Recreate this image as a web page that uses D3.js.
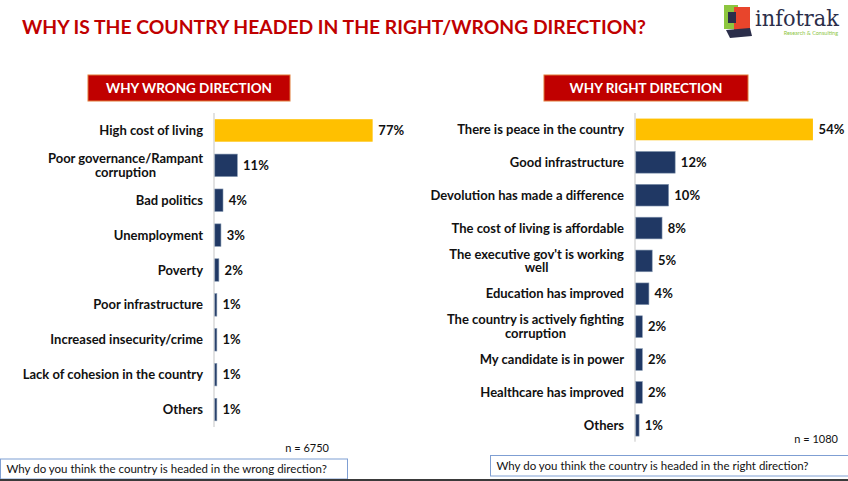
<!DOCTYPE html>
<html>
<head>
<meta charset="utf-8">
<script src="https://cdnjs.cloudflare.com/ajax/libs/d3/7.8.5/d3.min.js"></script>
<style>
	body { margin: 0; background: #fff; }
	svg { display: block; font-family: Lato, 'Open Sans', sans-serif; }
</style>
</head>
<body>
<div id="chart"></div>
<script>
// data
var wrongLabels = ['High cost of living', 'Poor governance/Rampant\ncorruption', 'Bad politics', 'Unemployment',
	'Poverty', 'Poor infrastructure', 'Increased insecurity/crime', 'Lack of cohesion in the country', 'Others'];
var wrongValues = [77, 11, 4, 3, 2, 1, 1, 1, 1];

var rightLabels = ['There is peace in the country', 'Good infrastructure', 'Devolution has made a difference',
	'The cost of living is affordable', "The executive gov't is working\nwell", 'Education has improved',
	'The country is actively fighting\ncorruption', 'My candidate is in power', 'Healthcare has improved', 'Others'];
var rightValues = [54, 12, 10, 8, 5, 4, 2, 2, 2, 1];

var width = 848, height = 481;
var red = '#C00000', navy = '#203864', gold = '#FFC000';

var svg = d3.select('#chart').append('svg')
	.attr('width', width)
	.attr('height', height);

// Main title
svg.append('text')
	.attr('x', 22)
	.attr('y', 34)
	.attr('fill', red)
	.attr('font-weight', 700)
	.attr('font-size', '18px')
	.attr('textLength', 624)
	.attr('lengthAdjust', 'spacingAndGlyphs')
	.text('WHY IS THE COUNTRY HEADED IN THE RIGHT/WRONG DIRECTION?');

// logo (rough)
var logo = svg.append('g').attr('transform', 'translate(722, 3)');
logo.append('rect').attr('x', 2).attr('y', 2).attr('width', 14).attr('height', 24).attr('fill', '#8DC63F');
logo.append('rect').attr('x', 12).attr('y', 4).attr('width', 16).attr('height', 24).attr('fill', '#E8452C');
logo.append('rect').attr('x', 6).attr('y', 9).attr('width', 8).attr('height', 11).attr('fill', '#2B2E4A');
logo.append('path').attr('d', 'M4 27 L28 25 L30 33 L8 35 Z').attr('fill', '#2B2E4A');
logo.append('text').attr('x', 33).attr('y', 23).attr('fill', '#2B2E4A')
	.attr('font-family', 'DejaVu Serif, serif').attr('font-size', '22px')
	.attr('textLength', 84).attr('lengthAdjust', 'spacingAndGlyphs').text('infotrak');
logo.append('text').attr('x', 116).attr('y', 32).attr('fill', '#8DC63F')
	.attr('text-anchor', 'end').attr('font-size', '5.5px').text('Research & Consulting');

function header(x0, x1, label) {
	svg.append('rect')
		.attr('x', x0).attr('y', 75)
		.attr('width', x1 - x0).attr('height', 26)
		.attr('fill', red)
		.attr('stroke', '#E07B39')
		.attr('stroke-width', 1);
	svg.append('text')
		.attr('x', (x0 + x1) / 2).attr('y', 93)
		.attr('text-anchor', 'middle')
		.attr('fill', '#fff')
		.attr('font-weight', 700)
		.attr('font-size', '13.5px')
		.text(label);
}

function panel(opts) {
	var xScale = d3.scaleLinear()
		.domain([0, 100])
		.range([0, opts.pxPer100]);

	var yScale = d3.scaleBand()
		.domain(opts.labels)
		.range([opts.top, opts.bottom])
		.paddingInner(opts.pad)
		.paddingOuter(opts.pad / 2);

	var chart = svg.append('g').attr('transform', 'translate(' + opts.axisX + ', 0)');

	// axis line
	chart.append('line')
		.attr('x1', 0).attr('x2', 0)
		.attr('y1', opts.top).attr('y2', opts.bottom)
		.attr('stroke', '#D9D9D9')
		.attr('stroke-width', 1.5);

	chart.selectAll('rect.bar')
		.data(opts.values)
		.enter()
		.append('rect')
		.attr('class', 'bar')
		.attr('x', 0.8)
		.attr('y', (d, i) => yScale(opts.labels[i]))
		.attr('width', d => xScale(d))
		.attr('height', yScale.bandwidth())
		.attr('fill', (d, i) => i === 0 ? gold : navy)
		.attr('stroke', (d, i) => i === 0 ? 'none' : '#8497B0')
		.attr('stroke-width', 0.6);

	// value labels
	chart.selectAll('text.val')
		.data(opts.values)
		.enter()
		.append('text')
		.attr('class', 'val')
		.attr('x', d => xScale(d) + 6.5)
		.attr('y', (d, i) => yScale(opts.labels[i]) + yScale.bandwidth() / 2 + 4.5)
		.attr('font-weight', 700)
		.attr('font-size', '13px')
		.attr('fill', '#111')
		.text(d => d + '%');

	// category labels, centred block aligned to the right
	opts.labels.forEach(function (lab, i) {
		var lines = lab.split('\n');
		var cy = yScale(lab) + yScale.bandwidth() / 2;
		var t = chart.append('text')
			.attr('font-weight', 700)
			.attr('font-size', '13px')
			.attr('fill', '#111');
		lines.forEach(function (ln, j) {
			t.append('tspan')
				.attr('x', 0)
				.attr('y', cy + 4.5 + (j - (lines.length - 1) / 2) * 13.5)
				.text(ln);
		});
		var maxW = 0;
		t.selectAll('tspan').each(function () {
			maxW = Math.max(maxW, this.getComputedTextLength());
		});
		t.attr('text-anchor', 'middle');
		t.selectAll('tspan').attr('x', -11 - maxW / 2);
	});
}

header(88, 290, 'WHY WRONG DIRECTION');
header(544, 748, 'WHY RIGHT DIRECTION');

panel({ labels: wrongLabels, values: wrongValues, axisX: 214, top: 113, bottom: 427, pad: 0.355, pxPer100: 205 });
panel({ labels: rightLabels, values: rightValues, axisX: 635, top: 113, bottom: 441.7, pad: 0.34, pxPer100: 328 });

// sample sizes
svg.append('text').attr('x', 329).attr('y', 452).attr('text-anchor', 'end')
	.attr('font-size', '11px').attr('fill', '#111').text('n = 6750');
svg.append('text').attr('x', 838).attr('y', 443).attr('text-anchor', 'end')
	.attr('font-size', '11px').attr('fill', '#111').text('n = 1080');

// question boxes
function questionBox(x, y, w, h, label) {
	svg.append('rect')
		.attr('x', x).attr('y', y).attr('width', w).attr('height', h)
		.attr('fill', '#fff')
		.attr('stroke', '#7F9FD3')
		.attr('stroke-width', 1);
	svg.append('text')
		.attr('x', x + 6).attr('y', y + h / 2 + 4)
		.attr('font-size', '11.5px')
		.attr('fill', '#111')
		.text(label);
}
questionBox(0.5, 459, 347, 20, 'Why do you think the country is headed in the wrong direction?');
questionBox(490.5, 455.5, 360, 20.5, 'Why do you think the country is headed in the right direction?');

// dark strip along the bottom
svg.append('rect').attr('x', 0).attr('y', 479).attr('width', width).attr('height', 2).attr('fill', '#3A3A3A');
</script>
</body>
</html>
